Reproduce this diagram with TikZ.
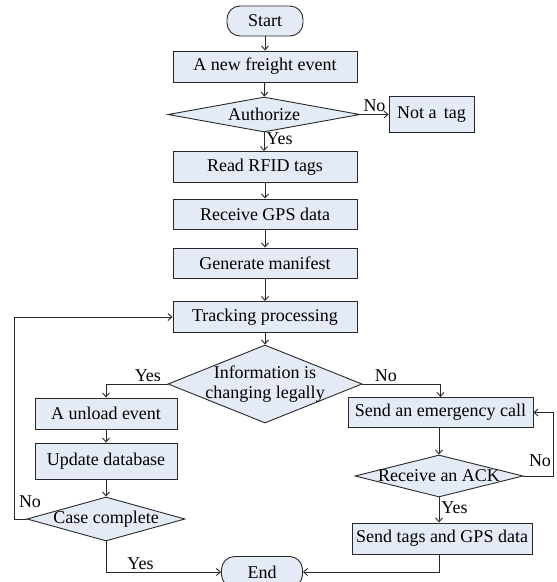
\documentclass[tikz,border=0pt]{standalone}
\usepackage{fontspec}
\setmainfont{Liberation Serif}
\usetikzlibrary{shapes.geometric,arrows.meta}
\definecolor{boxfill}{RGB}{229,235,246}
\definecolor{edge}{RGB}{40,40,40}
\begin{document}
\begin{tikzpicture}[x=1pt,y=-1pt,
  every node/.style={font=\fontsize{18}{20}\selectfont},
  proc/.style={draw=edge,fill=boxfill,line width=0.9pt,rectangle,inner sep=0pt,minimum width=184pt,minimum height=31pt},
  term/.style={draw=edge,fill=boxfill,line width=0.9pt,rectangle,rounded corners=13pt,inner sep=0pt,minimum height=30pt},
  dec/.style={draw=edge,fill=boxfill,line width=0.9pt,diamond,inner sep=0pt},
  lbl/.style={inner sep=0pt},
  flow/.style={draw=edge,line width=0.9pt,-{Straight Barb[length=4pt,width=7pt]}}]
\useasboundingbox (0,0) rectangle (557,582);
% nodes
\node[term,minimum width=76pt] (start) at (265,21) {Start};
\node[proc] (freight) at (265,66.5) {A new freight event};
\node[dec,minimum width=192pt,minimum height=35pt,label={center:Authorize}] (auth) at (264,114.5) {};
\node[proc,minimum width=85pt,minimum height=36pt] (notag) at (431.5,114.5) {Not a\, tag};
\node[proc] (rfid) at (265,167) {Read RFID tags};
\node[proc,minimum height=30pt] (gps) at (265,214) {Receive GPS data};
\node[proc,minimum height=30pt] (manifest) at (265,263) {Generate manifest};
\node[proc] (track) at (265,317) {Tracking processing};
\node[dec,minimum width=194pt,minimum height=78pt,label={[align=center,font=\fontsize{18}{20}\selectfont]center:Information is\\changing legally}] (info) at (265,384) {};
\node[proc,minimum width=142pt] (unload) at (106,413.5) {A unload event};
\node[proc,minimum width=142pt,minimum height=36pt] (update) at (106,461) {Update database};
\node[dec,minimum width=158pt,minimum height=44pt,label={center:Case complete}] (case) at (106,519) {};
\node[proc,minimum width=185pt,minimum height=30pt] (emerg) at (440.5,412.5) {Send an emergency call};
\node[dec,minimum width=168pt,minimum height=42pt,label={center:Receive an ACK}] (ack) at (439,476) {};
\node[proc,minimum width=180pt] (sendtags) at (442,538.5) {Send tags and GPS data};
\node[term,minimum width=81pt,minimum height=31pt] (end) at (262,572) {End};
\coordinate (caseloop) at (14,519);
\coordinate (ackloop) at (553,476);
% connectors
\draw[flow] (start) -- (freight);
\draw[flow] (freight) -- (auth);
\draw[flow] (auth.south) -- (rfid.north -| auth.south) node[lbl,pos=0.35,right=2pt] {Yes};
\draw[flow] (auth.east) -- (notag.west) node[lbl,midway,above=2pt] {No};
\draw[flow] (rfid) -- (gps);
\draw[flow] (gps) -- (manifest);
\draw[flow] (manifest) -- (track);
\draw[flow] (track) -- (info);
\draw[flow] (info.west) -| (unload.north) node[lbl,pos=0.16,above=2pt] {Yes};
\draw[flow] (info.east) -| (emerg.north) node[lbl,pos=0.15,above=2pt] {No};
\draw[flow] (unload) -- (update);
\draw[flow] (update) -- (case);
\draw[flow] (case.west) -- (caseloop) |- (track.west);
\node[lbl] at (30,502) {No};
\draw[flow] (case.south) |- (end.west) node[lbl,pos=0.65,above=2pt] {Yes};
\draw[flow] (emerg.south -| ack.north) -- (ack.north);
\draw[flow] (ack.east) -- (ackloop) |- (emerg.east);
\node[lbl] at (540,461) {No};
\draw[flow] (ack.south) -- (ack.south |- sendtags.north) node[lbl,pos=0.4,right=2pt] {Yes};
\draw[flow] (ack.south |- sendtags.south) |- (end.east);
\end{tikzpicture}
\end{document}
